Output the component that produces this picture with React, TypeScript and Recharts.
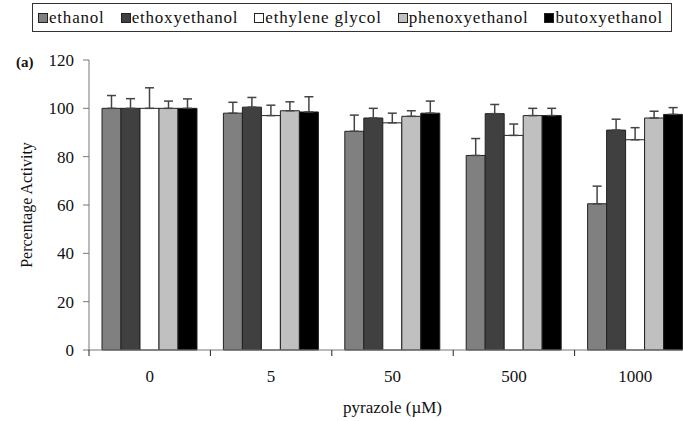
import React from "react";
import {
    BarChart,
    Bar,
    XAxis,
    YAxis,
    Legend,
    ErrorBar,
    Label
} from "recharts";

// pyrazole concentrations (µM) along the x axis
const concentrations = ["0", "5", "50", "500", "1000"];

// percentage activity per substrate, with the +SD of each mean
const ethanol = [100, 98, 90.5, 80.5, 60.5];
const ethanolSd = [5.3, 4.5, 6.7, 7, 7.3];
const ethoxyethanol = [100, 100.5, 96, 97.8, 91];
const ethoxyethanolSd = [4, 4, 4, 3.8, 4.5];
const ethyleneGlycol = [100, 97, 94, 88.8, 87];
const ethyleneGlycolSd = [8.5, 4.3, 4, 4.7, 5];
const phenoxyethanol = [100, 99, 96.7, 97, 96];
const phenoxyethanolSd = [3, 3.7, 2.3, 3, 2.8];
const butoxyethanol = [100, 98.5, 98, 97, 97.5];
const butoxyethanolSd = [3.9, 6.3, 5, 3, 2.8];

const yTicks = [0, 20, 40, 60, 80, 100, 120];

const series = [
    { key: "ethanol", name: "ethanol", fill: "#808080" },
    { key: "ethoxyethanol", name: "ethoxyethanol", fill: "#404040" },
    { key: "ethyleneGlycol", name: "ethylene glycol", fill: "#ffffff" },
    { key: "phenoxyethanol", name: "phenoxyethanol", fill: "#c0c0c0" },
    { key: "butoxyethanol", name: "butoxyethanol", fill: "#000000" }
];
const seriesOrder = series.map((s) => s.name);

// error bars only go upwards, so the lower bound is 0
const data = concentrations.map((c, i) => ({
    conc: c,
    ethanol: ethanol[i],
    ethanolErr: [0, ethanolSd[i]],
    ethoxyethanol: ethoxyethanol[i],
    ethoxyethanolErr: [0, ethoxyethanolSd[i]],
    ethyleneGlycol: ethyleneGlycol[i],
    ethyleneGlycolErr: [0, ethyleneGlycolSd[i]],
    phenoxyethanol: phenoxyethanol[i],
    phenoxyethanolErr: [0, phenoxyethanolSd[i]],
    butoxyethanol: butoxyethanol[i],
    butoxyethanolErr: [0, butoxyethanolSd[i]]
}));

const FONT = "'Liberation Serif', 'Times New Roman', serif";
const AXIS = "#777";

function LegendBox({ payload }: any) {
    const items = [...(payload || [])].sort(
        (a: any, b: any) => seriesOrder.indexOf(a.value) - seriesOrder.indexOf(b.value)
    );
    return (
        <div
            style={{
                boxSizing: "border-box",
                height: 29,
                border: "1px solid #333",
                display: "flex",
                alignItems: "center",
                paddingLeft: 5,
                fontFamily: FONT,
                fontSize: 17,
                letterSpacing: 0.8,
                color: "#111",
                whiteSpace: "nowrap"
            }}
        >
            {items.map((p: any) => (
                <span key={p.value} style={{ display: "flex", alignItems: "center", marginRight: 16 }}>
                    <span
                        style={{
                            display: "inline-block",
                            width: 8,
                            height: 8,
                            background: p.color,
                            border: "1px solid #222",
                            marginRight: 1
                        }}
                    />
                    {p.value}
                </span>
            ))}
        </div>
    );
}

// category label at the centre, tick mark at the left edge of the band
function ConcTick({ x, y, payload }: any) {
    const edge = x - payload.offset;
    return (
        <g>
            <line x1={edge} x2={edge} y1={y} y2={y + 6} stroke="#222" />
            <text x={x} y={y + 32} textAnchor="middle" fontFamily={FONT} fontSize={17} fill="#111">
                {payload.value}
            </text>
        </g>
    );
}

export default function App() {
    return (
        <div
            style={{
                position: "absolute",
                left: 0,
                top: 0,
                width: 683,
                height: 421,
                overflow: "hidden",
                background: "#fff"
            }}
        >
            <BarChart
                width={696}
                height={421}
                data={data}
                margin={{ top: 31, right: 0, left: 0, bottom: 0 }}
                barGap={0}
                barCategoryGap={13}
            >
                <Legend
                    verticalAlign="top"
                    content={<LegendBox />}
                    wrapperStyle={{ top: 3, left: 32, width: 640 }}
                />
                <XAxis
                    dataKey="conc"
                    height={71}
                    stroke={AXIS}
                    tickLine={false}
                    tickSize={0}
                    tickMargin={0}
                    tick={<ConcTick />}
                >
                    <Label
                        value="pyrazole (µM)"
                        position="insideBottom"
                        offset={8}
                        style={{ fontFamily: FONT, fontSize: 17, fill: "#111" }}
                    />
                </XAxis>
                <YAxis
                    width={89}
                    domain={[0, 120]}
                    ticks={yTicks}
                    stroke={AXIS}
                    tickSize={6}
                    tickMargin={9}
                    tick={{ fontFamily: FONT, fontSize: 17, fill: "#111" }}
                >
                    <Label
                        content={({ viewBox }: any) => {
                            const cx = viewBox.x + 26;
                            const cy = viewBox.y + viewBox.height / 2;
                            return (
                                <text
                                    x={cx}
                                    y={cy}
                                    transform={`rotate(-90, ${cx}, ${cy})`}
                                    textAnchor="middle"
                                    dominantBaseline="central"
                                    fontFamily={FONT}
                                    fontSize={16}
                                    fill="#111"
                                >
                                    Percentage Activity
                                </text>
                            );
                        }}
                    />
                    <Label
                        content={({ viewBox }: any) => (
                            <text
                                x={viewBox.x + 16}
                                y={viewBox.y + 7}
                                fontFamily={FONT}
                                fontSize={15}
                                fontWeight="bold"
                                fill="#111"
                            >
                                (a)
                            </text>
                        )}
                    />
                </YAxis>
                {series.map((s) => (
                    <Bar
                        key={s.key}
                        dataKey={s.key}
                        name={s.name}
                        fill={s.fill}
                        stroke="#222"
                        strokeWidth={1}
                        isAnimationActive={false}
                    >
                        <ErrorBar
                            dataKey={`${s.key}Err`}
                            direction="y"
                            width={4.5}
                            stroke="#444"
                            strokeWidth={1.5}
                        />
                    </Bar>
                ))}
            </BarChart>
        </div>
    );
}
